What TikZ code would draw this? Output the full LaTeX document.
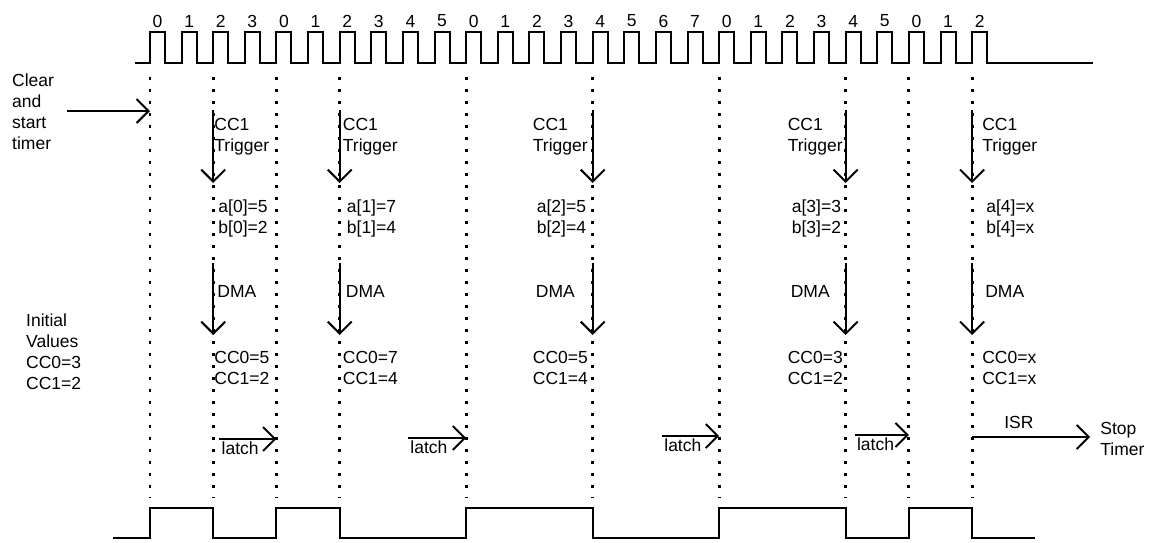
\documentclass[tikz,border=0pt]{standalone}
\usepackage{fontspec}
\setmainfont{Liberation Sans}
\usetikzlibrary{arrows.meta,calc,positioning}

\tikzset{
  wave/.style={line width=2pt},
  tick/.style={line width=2.8pt, dash pattern=on 2.8pt off 9.2pt},
  sarrow/.style={line width=2pt, -{Straight Barb[length=12pt,width=24pt,line width=2pt]}},
  lbl/.style={font=\fontsize{17.5}{20.8}\selectfont, inner sep=0pt, align=left},
}

\begin{document}
\begin{tikzpicture}[x=1pt,y=-1pt]
\useasboundingbox (0,0) rectangle (1154,542);

\def\period{31.62}
\def\xzero{150}
\def\hiw{15}
\def\counts{0,1,2,3,0,1,2,3,4,5,0,1,2,3,4,5,6,7,0,1,2,3,4,5,0,1,2}
\def\marks{0,2,4,6,10,14,18,22,24,26}

%% clock and its counts
\draw [wave] (135,63) \foreach \c [count=\ni from 0] in \counts { -- ({\xzero+\ni*\period},63) -- ++(0,-31) -- ++(\hiw,0) -- ++(0,31) } -- (1093,63);

\foreach \c [count=\ni from 0] in \counts
  \node [lbl] (cnt\ni) at ({\xzero+\ni*\period+\hiw/2},21) {\c};

%% dotted edges
\foreach \m [count=\k] in \marks
{
  \pgfmathsetmacro\ex{\xzero+\m*\period}
  \coordinate (top\k) at (\ex,77);
  \coordinate (bot\k) at (\ex,498);
  \coordinate (hi\k) at (\ex,508);
  \coordinate (lo\k) at (\ex,538);
  \draw [tick] (top\k) -- (bot\k);
}

%% output waveform
\draw [wave] (113,538) \foreach \a/\b in {1/2,3/4,5/6,7/8,9/10} { -- (lo\a) -- (hi\a) -- (hi\b) -- (lo\b) } -- (1035,538);

%% start
\node [lbl, anchor=north west] (clear) at (12,74) {Clear\\and\\start\\timer};
\coordinate (clrs) at (67,111);
\draw [sarrow] (clrs) -- (clrs -| top1);

\node [lbl, anchor=north west] (init) at (26,314) {Initial\\Values\\CC0=3\\CC1=2};

%% trigger, values, DMA
\foreach \k/\o/\i/\va/\vb in {2/-1/0/5/2, 4/1/1/7/4, 6/-62/2/5/4, 8/-60/3/3/2, 10/8/4/x/x}
{
  \coordinate (trs\i) at ($(top\k)+(0,33)$);
  \coordinate (tre\i) at ($(top\k)+(0,106)$);
  \coordinate (dms\i) at ($(top\k)+(0,186)$);
  \coordinate (dme\i) at ($(top\k)+(0,258)$);
  \draw [sarrow] (trs\i) -- (tre\i);
  \draw [sarrow] (dms\i) -- (dme\i);
  \node [lbl, anchor=north west] (trig\i) at ($(top\k)+(\o+2,41)$) {CC1\\Trigger};
  \node [lbl, anchor=north west] (val\i) at ($(top\k)+(\o+6,123)$) {a[\i]=\va\\b[\i]=\vb};
  \node [lbl, anchor=north west] (dma\i) at ($(top\k)+(\o+5,208)$) {DMA};
  \node [lbl, anchor=north west] (cc\i) at ($(top\k)+(\o+2,274)$) {CC0=\va\\CC1=\vb};
}

%% latch
\foreach \k/\len/\ly [count=\j] in {3/57/439, 5/58/438, 7/57/436, 9/54/435}
{
  \coordinate (lte\j) at ($(top\k)+(0,{\ly-77})$);
  \coordinate (lts\j) at ($(lte\j)+(-\len,0)$);
  \draw [sarrow] (lts\j) -- (lte\j);
  \node [lbl, anchor=north west] (latch\j) at ($(lts\j)+(2,3)$) {latch};
}

%% stop
\coordinate (isrs) at ($(top10)+(0,360)$);
\coordinate (isre) at ($(isrs)+(118,0)$);
\draw [sarrow] (isrs) -- (isre);
\node [lbl, anchor=north west] (isr) at ($(isrs)+(32,-21)$) {ISR};
\node [lbl, anchor=north west] (stop) at ($(isre)+(10,-15)$) {Stop\\Timer};
\end{tikzpicture}
\end{document}
